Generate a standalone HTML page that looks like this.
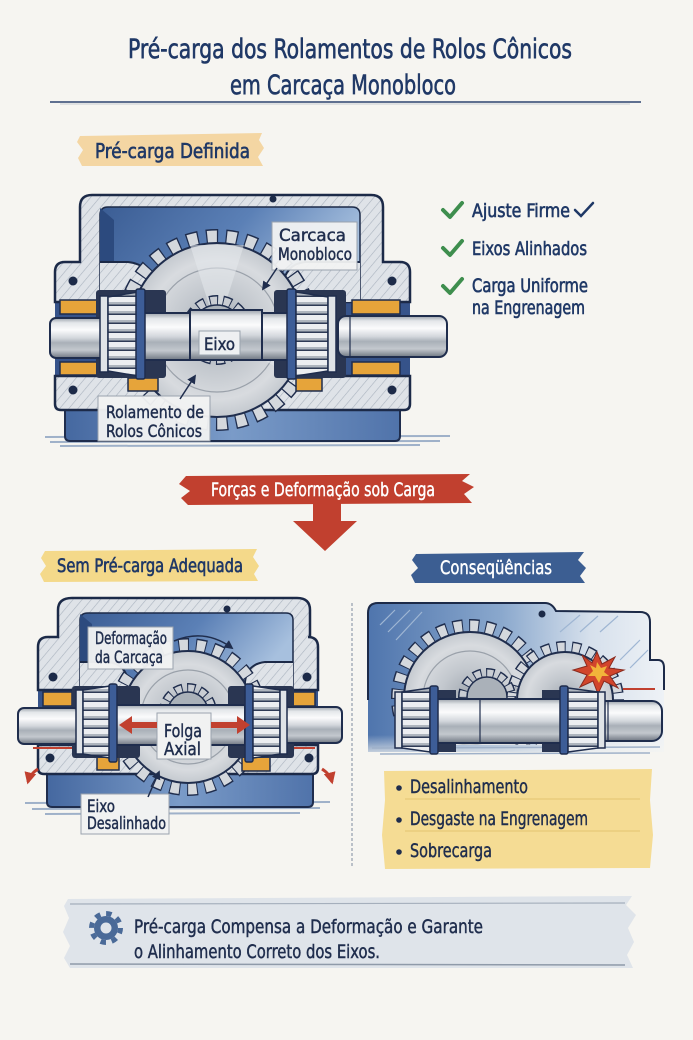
<!DOCTYPE html>
<html><head><meta charset="utf-8">
<style>
html,body{margin:0;padding:0;background:#f6f5f1;}
svg{display:block;}
text{font-family:"Liberation Sans Narrow","DejaVu Sans Condensed","Liberation Sans",sans-serif;paint-order:stroke;}
.n{fill:#1f2d4d;stroke:#1f2d4d;stroke-width:0.45;}
.h{fill:#1f3866;stroke:#1f3866;stroke-width:0.6;}
.w{fill:#ffffff;stroke:#ffffff;stroke-width:0.4;}
</style></head><body>
<svg width="693" height="1040" viewBox="0 0 693 1040" xmlns="http://www.w3.org/2000/svg">
<defs>
 <pattern id="hatch" width="7" height="7" patternUnits="userSpaceOnUse" patternTransform="rotate(40)">
   <rect width="7" height="7" fill="#dfe3e8"/>
   <line x1="0" y1="0" x2="0" y2="7" stroke="#aab3bf" stroke-width="1.2"/>
 </pattern>
 <linearGradient id="cav" x1="0" y1="0" x2="1" y2="0.3">
   <stop offset="0" stop-color="#3b5d94"/><stop offset="0.55" stop-color="#5b80b6"/><stop offset="1" stop-color="#a7c0de"/>
 </linearGradient>
 <linearGradient id="base" x1="0" y1="0" x2="1" y2="0">
   <stop offset="0" stop-color="#4568a0"/><stop offset="0.5" stop-color="#7a9bc8"/><stop offset="1" stop-color="#5073aa"/>
 </linearGradient>
 <linearGradient id="rhous" x1="0" y1="0" x2="1" y2="0">
   <stop offset="0" stop-color="#4f75ad"/><stop offset="0.45" stop-color="#8aa8cd"/><stop offset="0.75" stop-color="#d6e0ec"/><stop offset="1" stop-color="#eef2f6"/>
 </linearGradient>
 <linearGradient id="fade" x1="0" y1="0" x2="0" y2="1">
   <stop offset="0" stop-color="#f6f5f1" stop-opacity="0"/><stop offset="1" stop-color="#f6f5f1" stop-opacity="0.9"/>
 </linearGradient>
 <linearGradient id="shaft" x1="0" y1="0" x2="0" y2="1">
   <stop offset="0" stop-color="#9aa1aa"/><stop offset="0.12" stop-color="#e4e7ea"/><stop offset="0.3" stop-color="#fbfbfc"/><stop offset="0.5" stop-color="#d3d7dc"/><stop offset="0.62" stop-color="#a9b0b8"/><stop offset="0.8" stop-color="#c3c8ce"/><stop offset="1" stop-color="#6f7782"/>
 </linearGradient>
 <radialGradient id="gearg" cx="0.5" cy="0.5" r="0.5">
   <stop offset="0" stop-color="#9ea5ae"/><stop offset="0.45" stop-color="#c3c8ce"/><stop offset="0.8" stop-color="#d8dbdf"/><stop offset="1" stop-color="#c4c9cf"/>
 </radialGradient>
 <pattern id="roll" width="10" height="9" patternUnits="userSpaceOnUse">
   <rect width="10" height="9" fill="#eceef1"/>
   <rect y="5" width="10" height="2.5" fill="#aeb5be"/>
   <rect y="7.5" width="10" height="1.5" fill="#2e3a55"/>
 </pattern>
 <marker id="ah" viewBox="0 0 10 10" refX="8" refY="5" markerWidth="6" markerHeight="6" orient="auto">
   <path d="M0,0 L10,5 L0,10 Z" fill="#1f2d4d"/>
 </marker>
 <marker id="ahr" viewBox="0 0 10 10" refX="8" refY="5" markerWidth="4" markerHeight="4" orient="auto">
   <path d="M0,0 L10,5 L0,10 Z" fill="#c1402f"/>
 </marker>
 <clipPath id="rclip"><rect x="360" y="590" width="320" height="155"/></clipPath>
</defs>

<rect width="693" height="1040" fill="#f6f5f1"/>

<!-- TITLE -->
<text class="h" x="128" y="58" font-size="27" textLength="444" lengthAdjust="spacingAndGlyphs">Pré-carga dos Rolamentos de Rolos Cônicos</text>
<text class="h" x="230" y="94" font-size="27" textLength="226" lengthAdjust="spacingAndGlyphs">em Carcaça Monobloco</text>
<line x1="50" y1="102" x2="641" y2="102" stroke="#2d4470" stroke-width="1.6"/>
<line x1="60" y1="104" x2="630" y2="104" stroke="#9aa6b8" stroke-width="0.6"/>

<!-- Label: Pré-carga Definida -->
<path d="M80,136 L262,133 L259,140 L264,148 L258,157 L263,166 L82,166 L78,158 L83,150 L77,142 Z" fill="#f4d6a3"/>
<text class="h" x="95" y="158" font-size="20" textLength="155" lengthAdjust="spacingAndGlyphs">Pré-carga Definida</text>

<!-- ================= TOP DIAGRAM ================= -->
<path d="M45,437 L450,436 M50,442 L440,441 M60,446 L420,445" stroke="#9fb1c9" stroke-width="2" fill="none"/>
<path d="M65,402 L400,402 L400,436 Q400,441 395,441 L70,441 Q65,441 65,436 Z" fill="url(#base)" stroke="#1f2d4d" stroke-width="2"/>
<rect x="55" y="298" width="355" height="80" fill="#36538a"/>
<path d="M92,195 L371,195 Q383,195 383,207 L383,262 L400,262 Q410,262 410,272 L410,302 L55,302 L55,272 Q55,262 65,262 L80,262 L80,207 Q80,195 92,195 Z" fill="url(#hatch)" stroke="#1c2a48" stroke-width="2.5"/>
<path d="M100,215 Q100,207 108,207 L352,207 Q360,207 360,215 L360,300 L100,300 Z" fill="url(#cav)" stroke="#1c2a48" stroke-width="1.5"/>
<polygon points="100,208 114,220 114,300 100,300" fill="#2c4a7e"/>
<path d="M100,262 L128,262 Q150,264 153,288 L153,302 L100,302 Z" fill="url(#hatch)"/>
<path d="M100,262 L128,262 Q150,264 153,288 L153,300" fill="none" stroke="#1c2a48" stroke-width="2"/>
<path d="M360,262 L305,262 Q285,264 282,288 L282,302 L360,302 Z" fill="url(#hatch)"/>
<path d="M360,262 L305,262 Q285,264 282,288 L282,300" fill="none" stroke="#1c2a48" stroke-width="2"/>
<path d="M55,376 L410,376 L410,404 Q410,410 404,410 L61,410 Q55,410 55,404 Z" fill="url(#hatch)" stroke="#1c2a48" stroke-width="2.5"/>
<!-- gear A -->
<circle cx="217" cy="330" r="93.5" fill="none" stroke="#1f2d4d" stroke-width="15" stroke-dasharray="12 7.583" stroke-dashoffset="1.25"/>
<circle cx="217" cy="330" r="93.5" fill="none" stroke="#d4d8dd" stroke-width="12" stroke-dasharray="9.5 10.083"/>
<circle cx="217" cy="330" r="87" fill="url(#gearg)" stroke="#1f2d4d" stroke-width="2"/>
<circle cx="217" cy="330" r="62" fill="none" stroke="#9aa1aa" stroke-width="1.2"/>
<path d="M217,330 L190,245 L244,245 Z M217,330 L302,350 L296,380 Z" fill="#e6e9ec" opacity="0.55"/>
<!-- pinion -->
<circle cx="217" cy="330" r="29.5" fill="none" stroke="#1f2d4d" stroke-width="11" stroke-dasharray="8.5 4.74" stroke-dashoffset="1"/>
<circle cx="217" cy="330" r="29.5" fill="none" stroke="#c9cdd3" stroke-width="8" stroke-dasharray="6.5 6.74"/>
<circle cx="217" cy="330" r="25" fill="#aab1b9" stroke="#1f2d4d" stroke-width="1.5"/>
<!-- orange pads -->
<g fill="#e6a43a" stroke="#1f2d4d" stroke-width="1.5">
<rect x="60" y="300" width="38" height="14"/><rect x="60" y="362" width="38" height="13"/>
<rect x="352" y="300" width="48" height="14"/><rect x="352" y="362" width="48" height="13"/>
<rect x="128" y="378" width="30" height="13"/><rect x="296" y="378" width="26" height="13"/>
</g>
<rect x="96" y="290" width="70" height="88" rx="3" fill="#2a3652"/>
<rect x="274" y="290" width="72" height="88" rx="3" fill="#2a3652"/>
<!-- shaft -->
<g stroke="#1f2d4d" stroke-width="2" fill="url(#shaft)">
<rect x="50" y="318" width="56" height="40" rx="6"/>
<rect x="338" y="316" width="109" height="41" rx="8"/>
<rect x="140" y="313" width="150" height="47"/>
<rect x="190" y="310" width="72" height="50"/>
</g>
<line x1="350" y1="317" x2="350" y2="356" stroke="#1f2d4d" stroke-width="1.2"/>
<!-- bearings -->
<g stroke="#1f2d4d" stroke-width="1.5">
<rect x="100" y="296" width="8" height="76" fill="#dfe3e7"/>
<polygon points="108,297 138,292 138,376 108,371" fill="url(#roll)"/>
<rect x="136" y="289" width="9" height="90" rx="2" fill="#3d5d97"/>
<rect x="287" y="289" width="9" height="90" rx="2" fill="#3d5d97"/>
<polygon points="296,292 328,297 328,371 296,376" fill="url(#roll)"/>
<rect x="328" y="296" width="8" height="76" fill="#dfe3e7"/>
</g>
<g fill="#1c2a48">
<circle cx="73" cy="281" r="4.5"/><circle cx="392" cy="281" r="4.5"/>
<circle cx="73" cy="390" r="4.5"/><circle cx="392" cy="390" r="4.5"/>
<circle cx="273" cy="199" r="3.5"/>
</g>
<!-- labels top -->
<rect x="272" y="222" width="85" height="48" fill="#f1f2f2" fill-opacity="0.95" stroke="#9aa3ae" stroke-width="1"/>
<text class="n" x="279" y="241" font-size="17" textLength="67" lengthAdjust="spacingAndGlyphs">Carcaca</text>
<text class="n" x="278" y="260" font-size="17" textLength="74" lengthAdjust="spacingAndGlyphs">Monobloco</text>
<path d="M277,268 L263,289" stroke="#1f2d4d" stroke-width="1.5" marker-end="url(#ah)"/>
<rect x="199" y="331" width="41" height="24" fill="#eef0f2" stroke="#9aa3ae" stroke-width="1"/>
<text class="n" x="204" y="350" font-size="17" textLength="31" lengthAdjust="spacingAndGlyphs">Eixo</text>
<rect x="98" y="396" width="112" height="45" fill="#f1f2f2" fill-opacity="0.96" stroke="#9aa3ae" stroke-width="1"/>
<text class="n" x="106" y="418" font-size="17" textLength="98" lengthAdjust="spacingAndGlyphs">Rolamento de</text>
<text class="n" x="106" y="437" font-size="17" textLength="96" lengthAdjust="spacingAndGlyphs">Rolos Cônicos</text>
<path d="M180,399 L195,376" stroke="#1f2d4d" stroke-width="1.5" marker-end="url(#ah)"/>

<!-- checklist -->
<g stroke="#3e8e4e" stroke-width="4" fill="none" stroke-linecap="round" stroke-linejoin="round">
<path d="M443,210 L450,217 L462,203"/>
<path d="M443,248 L450,255 L462,241"/>
<path d="M443,286 L450,293 L462,279"/>
</g>
<text class="h" x="472" y="217" font-size="19" textLength="98" lengthAdjust="spacingAndGlyphs">Ajuste Firme</text>
<path d="M575,210 L581,216 L593,203" stroke="#1f3866" stroke-width="2.5" fill="none" stroke-linecap="round"/>
<text class="h" x="472" y="255" font-size="19" textLength="115" lengthAdjust="spacingAndGlyphs">Eixos Alinhados</text>
<text class="h" x="472" y="292" font-size="19" textLength="116" lengthAdjust="spacingAndGlyphs">Carga Uniforme</text>
<text class="h" x="472" y="314" font-size="19" textLength="113" lengthAdjust="spacingAndGlyphs">na Engrenagem</text>

<!-- red banner & arrow -->
<path d="M186,476 L470,474 L462,481 L474,487 L464,494 L472,503 L188,505 L181,498 L190,491 L179,484 Z" fill="#c1402f"/>
<text class="w" x="211" y="496" font-size="19" textLength="224" lengthAdjust="spacingAndGlyphs">Forças e Deformação sob Carga</text>
<polygon points="313,503 341,503 341,521 357,521 325,551 293,521 313,521" fill="#c1402f"/>

<!-- section labels -->
<path d="M45,551 L257,549 L253,557 L259,566 L254,574 L258,581 L44,582 L40,574 L46,566 L41,558 Z" fill="#f4d98a"/>
<text class="h" x="57" y="572" font-size="19" textLength="186" lengthAdjust="spacingAndGlyphs">Sem Pré-carga Adequada</text>
<path d="M416,554 L584,552 L578,560 L586,568 L580,576 L585,583 L415,583 L411,575 L418,568 L412,560 Z" fill="#3c5e92"/>
<text class="w" x="440" y="574" font-size="19" textLength="112" lengthAdjust="spacingAndGlyphs">Conseqüências</text>

<line x1="352" y1="603" x2="352" y2="866" stroke="#7e8ba0" stroke-width="1" stroke-dasharray="3 2"/>

<!-- ================= BOTTOM-LEFT DIAGRAM ================= -->
<path d="M25,803 L330,802 M32,809 L320,808 M45,814 L300,813" stroke="#9fb1c9" stroke-width="2" fill="none"/>
<path d="M47,772 L313,772 L313,802 Q313,807 308,807 L52,807 Q47,807 47,802 Z" fill="url(#base)" stroke="#1f2d4d" stroke-width="2"/>
<rect x="38" y="687" width="280" height="60" fill="#36538a"/>
<path d="M72,598 L297,598 Q310,598 310,610 L310,637 L308,637 Q318,637 318,647 L318,690 L38,690 L38,647 Q38,637 48,637 L58,637 L58,610 Q58,598 72,598 Z" fill="url(#hatch)" stroke="#1c2a48" stroke-width="2.5"/>
<path d="M80,620 Q80,613 88,613 L286,613 Q293,613 293,620 L293,690 L80,690 Z" fill="url(#cav)" stroke="#1c2a48" stroke-width="1.5"/>
<polygon points="80,614 92,624 92,690 80,690" fill="#2c4a7e"/>
<path d="M80,662 L108,662 Q126,664 128,682 L128,690 L80,690 Z" fill="url(#hatch)"/>
<path d="M80,662 L108,662 Q126,664 128,682 L128,689" fill="none" stroke="#1c2a48" stroke-width="2"/>
<path d="M293,662 L265,662 Q247,664 245,682 L245,690 L293,690 Z" fill="url(#hatch)"/>
<path d="M293,662 L265,662 Q247,664 245,682 L245,689" fill="none" stroke="#1c2a48" stroke-width="2"/>
<path d="M38,745 L318,745 L318,768 Q318,774 312,774 L44,774 Q38,774 38,768 Z" fill="url(#hatch)" stroke="#1c2a48" stroke-width="2.5"/>
<line x1="33" y1="748" x2="77" y2="748" stroke="#c1402f" stroke-width="2"/>
<line x1="293" y1="748" x2="315" y2="748" stroke="#c1402f" stroke-width="2"/>
<!-- gear C -->
<circle cx="188" cy="717" r="72" fill="none" stroke="#1f2d4d" stroke-width="14" stroke-dasharray="10.5 6.9" stroke-dashoffset="1"/>
<circle cx="188" cy="717" r="72" fill="none" stroke="#d4d8dd" stroke-width="11" stroke-dasharray="8.5 8.9"/>
<circle cx="188" cy="717" r="66" fill="url(#gearg)" stroke="#1f2d4d" stroke-width="2"/>
<circle cx="188" cy="717" r="47" fill="none" stroke="#9aa1aa" stroke-width="1.2"/>
<circle cx="188" cy="712" r="24" fill="none" stroke="#1f2d4d" stroke-width="10" stroke-dasharray="8 4.566" stroke-dashoffset="1"/>
<circle cx="188" cy="712" r="24" fill="none" stroke="#c9cdd3" stroke-width="7" stroke-dasharray="6 6.566"/>
<circle cx="188" cy="712" r="20" fill="#aab1b9" stroke="#1f2d4d" stroke-width="1.5"/>
<g fill="#e6a43a" stroke="#1f2d4d" stroke-width="1.5">
<rect x="43" y="692" width="29" height="14"/><rect x="293" y="692" width="22" height="14"/>
<rect x="97" y="757" width="22" height="13"/><rect x="242" y="757" width="28" height="14"/>
</g>
<rect x="72" y="686" width="68" height="72" rx="3" fill="#2a3652"/>
<rect x="228" y="686" width="66" height="72" rx="3" fill="#2a3652"/>
<g stroke="#1f2d4d" stroke-width="2" fill="url(#shaft)">
<rect x="18" y="708" width="62" height="36" rx="6"/>
<rect x="282" y="707" width="60" height="36" rx="6"/>
<rect x="110" y="705" width="135" height="40"/>
</g>
<g stroke="#1f2d4d" stroke-width="1.5">
<rect x="76" y="690" width="7" height="64" fill="#dfe3e7"/>
<polygon points="83,690 110,686 110,758 83,754" fill="url(#roll)"/>
<rect x="109" y="684" width="8" height="78" rx="2" fill="#3d5d97"/>
<rect x="245" y="684" width="8" height="78" rx="2" fill="#3d5d97"/>
<polygon points="253,686 280,690 280,754 253,758" fill="url(#roll)"/>
<rect x="280" y="690" width="7" height="64" fill="#dfe3e7"/>
</g>
<g fill="#1c2a48">
<circle cx="53" cy="677" r="4.5"/><circle cx="307" cy="677" r="4.5"/>
<circle cx="50" cy="758" r="4.5"/><circle cx="309" cy="758" r="4.5"/>
<circle cx="227" cy="609" r="3.5"/>
</g>
<rect x="88" y="627" width="85" height="42" fill="#f1f2f2" fill-opacity="0.96" stroke="#9aa3ae" stroke-width="1"/>
<text class="n" x="95" y="644" font-size="17" textLength="72" lengthAdjust="spacingAndGlyphs">Deformação</text>
<text class="n" x="95" y="663" font-size="17" textLength="68" lengthAdjust="spacingAndGlyphs">da Carcaça</text>
<path d="M174,641 Q205,628 232,648" stroke="#1f2d4d" stroke-width="1.5" fill="none" marker-end="url(#ah)"/>
<rect x="157" y="713" width="54" height="46" fill="#f1f2f2" stroke="#9aa3ae" stroke-width="1"/>
<text class="n" x="164" y="737" font-size="18" textLength="38" lengthAdjust="spacingAndGlyphs">Folga</text>
<text class="n" x="164" y="755" font-size="18" textLength="37" lengthAdjust="spacingAndGlyphs">Axial</text>
<path d="M157,722 L132,722 L132,716 L119,725 L132,734 L132,728 L157,728 Z" fill="#c1402f"/>
<path d="M211,722 L237,722 L237,716 L250,725 L237,734 L237,728 L211,728 Z" fill="#c1402f"/>
<rect x="81" y="794" width="88" height="40" fill="#f1f2f2" stroke="#9aa3ae" stroke-width="1"/>
<text class="n" x="87" y="812" font-size="17" textLength="28" lengthAdjust="spacingAndGlyphs">Eixo</text>
<text class="n" x="87" y="829" font-size="17" textLength="79" lengthAdjust="spacingAndGlyphs">Desalinhado</text>
<path d="M148,797 L159,772" stroke="#1f2d4d" stroke-width="1.5" marker-end="url(#ah)"/>
<path d="M38,769 Q30,774 28,782" stroke="#c1402f" stroke-width="3" fill="none" marker-end="url(#ahr)"/>
<path d="M322,769 Q330,774 332,782" stroke="#c1402f" stroke-width="3" fill="none" marker-end="url(#ahr)"/>

<!-- ================= BOTTOM-RIGHT DIAGRAM ================= -->
<path d="M378,603 L545,603 Q552,603 556,611 L640,612 Q650,612 650,622 L650,660 L658,660 Q664,660 664,668 L664,752 L368,752 L368,613 Q368,603 378,603 Z" fill="url(#rhous)"/>
<path d="M368,700 L368,613 Q368,603 378,603 L545,603 Q552,603 556,611 L640,612 Q650,612 650,622 L650,660 L658,660 Q664,660 664,668 L664,690" fill="none" stroke="#1c2a48" stroke-width="2"/>
<path d="M380,625 L395,610 M388,632 L410,610 M396,640 L422,612 M560,632 L580,615 M580,632 L598,616 M600,632 L618,616 M620,660 L640,640 M630,668 L648,650" stroke="#9fb6d3" stroke-width="1.2"/>
<circle cx="542" cy="614" r="3.5" fill="#1c2a48"/>
<g clip-path="url(#rclip)">
<circle cx="470" cy="698" r="72" fill="none" stroke="#1f2d4d" stroke-width="14" stroke-dasharray="10 6.157" stroke-dashoffset="1"/>
<circle cx="470" cy="698" r="72" fill="none" stroke="#d4d8dd" stroke-width="11" stroke-dasharray="8 8.157"/>
<circle cx="470" cy="698" r="66" fill="url(#gearg)" stroke="#1f2d4d" stroke-width="2"/>
<circle cx="470" cy="698" r="47" fill="none" stroke="#9aa1aa" stroke-width="1.2"/>
<circle cx="565" cy="700" r="53" fill="none" stroke="#1f2d4d" stroke-width="12" stroke-dasharray="9 6.137" stroke-dashoffset="1"/>
<circle cx="565" cy="700" r="53" fill="none" stroke="#d4d8dd" stroke-width="9" stroke-dasharray="7 8.137"/>
<circle cx="565" cy="700" r="48" fill="url(#gearg)" stroke="#1f2d4d" stroke-width="2"/>
<circle cx="487" cy="697" r="24" fill="none" stroke="#1f2d4d" stroke-width="10" stroke-dasharray="8 4.566" stroke-dashoffset="1"/>
<circle cx="487" cy="697" r="24" fill="none" stroke="#c9cdd3" stroke-width="7" stroke-dasharray="6 6.566"/>
<circle cx="487" cy="697" r="20" fill="#aab1b9" stroke="#1f2d4d" stroke-width="1.5"/>
</g>
<rect x="368" y="735" width="296" height="22" fill="url(#fade)"/>
<path d="M372,748 L660,747 M380,754 L650,753" stroke="#9fb1c9" stroke-width="1.5"/>
<polygon points="597,652 602,664 615,657 609,668 624,670 610,676 618,688 604,681 598,694 593,681 580,687 587,675 573,670 587,666 582,655 592,663" fill="#d2452c" stroke="#8a2a1e" stroke-width="1"/>
<polygon points="597,662 601,668 607,666 604,672 609,676 602,676 599,683 595,676 588,676 593,671 590,665 596,668" fill="#f2b33a"/>
<line x1="623" y1="689" x2="655" y2="689" stroke="#c1402f" stroke-width="2"/>
<rect x="436" y="690" width="20" height="62" fill="#2a3652"/>
<rect x="542" y="690" width="20" height="62" fill="#2a3652"/>
<g stroke="#1f2d4d" stroke-width="2" fill="url(#shaft)">
<rect x="590" y="701" width="72" height="40" rx="10"/>
<rect x="400" y="699" width="192" height="44"/>
</g>
<line x1="480" y1="699" x2="480" y2="743" stroke="#1f2d4d" stroke-width="1.2"/>
<line x1="608" y1="702" x2="608" y2="740" stroke="#1f2d4d" stroke-width="1.2"/>
<g stroke="#1f2d4d" stroke-width="1.5">
<rect x="395" y="692" width="7" height="56" fill="#dfe3e7"/>
<polygon points="402,692 430,688 430,752 402,748" fill="url(#roll)"/>
<rect x="430" y="686" width="8" height="68" rx="2" fill="#3d5d97"/>
<rect x="560" y="686" width="8" height="68" rx="2" fill="#3d5d97"/>
<polygon points="568,688 598,692 598,748 568,752" fill="url(#roll)"/>
<rect x="598" y="692" width="7" height="56" fill="#dfe3e7"/>
</g>

<!-- yellow list -->
<path d="M384,771 L652,769 L650,800 L653,835 L650,868 L385,869 L382,835 L385,800 Z" fill="#f5dc94"/>
<line x1="405" y1="799" x2="640" y2="799" stroke="#e3c56f" stroke-width="1"/>
<line x1="405" y1="831" x2="640" y2="831" stroke="#e3c56f" stroke-width="1"/>
<g fill="#1f2d4d">
<circle cx="399" cy="788" r="2.8"/><circle cx="399" cy="820" r="2.8"/><circle cx="399" cy="852" r="2.8"/>
</g>
<text class="n" x="410" y="793" font-size="19" textLength="118" lengthAdjust="spacingAndGlyphs">Desalinhamento</text>
<text class="n" x="410" y="825" font-size="19" textLength="178" lengthAdjust="spacingAndGlyphs">Desgaste na Engrenagem</text>
<text class="n" x="410" y="857" font-size="19" textLength="82" lengthAdjust="spacingAndGlyphs">Sobrecarga</text>

<!-- bottom banner -->
<path d="M68,899 L632,896 L626,905 L636,915 L628,928 L634,942 L627,955 L633,968 L70,968 L64,958 L70,946 L63,932 L69,918 L64,906 Z" fill="#dfe4ea"/>
<line x1="70" y1="904" x2="625" y2="903" stroke="#a5afbc" stroke-width="1.2"/>
<line x1="70" y1="964" x2="625" y2="965" stroke="#8f9aa9" stroke-width="1.5"/>
<circle cx="106" cy="928" r="14.5" fill="none" stroke="#4a6a98" stroke-width="5" stroke-dasharray="5.5 5.89"/>
<circle cx="106" cy="928" r="12" fill="#4a6a98"/>
<circle cx="106" cy="928" r="5.5" fill="#dfe4ea"/>
<text class="n" x="134" y="933" font-size="19" textLength="349" lengthAdjust="spacingAndGlyphs">Pré-carga Compensa a Deformação e Garante</text>
<text class="n" x="134" y="958" font-size="19" textLength="246" lengthAdjust="spacingAndGlyphs">o Alinhamento Correto dos Eixos.</text>
</svg>
</body></html>
